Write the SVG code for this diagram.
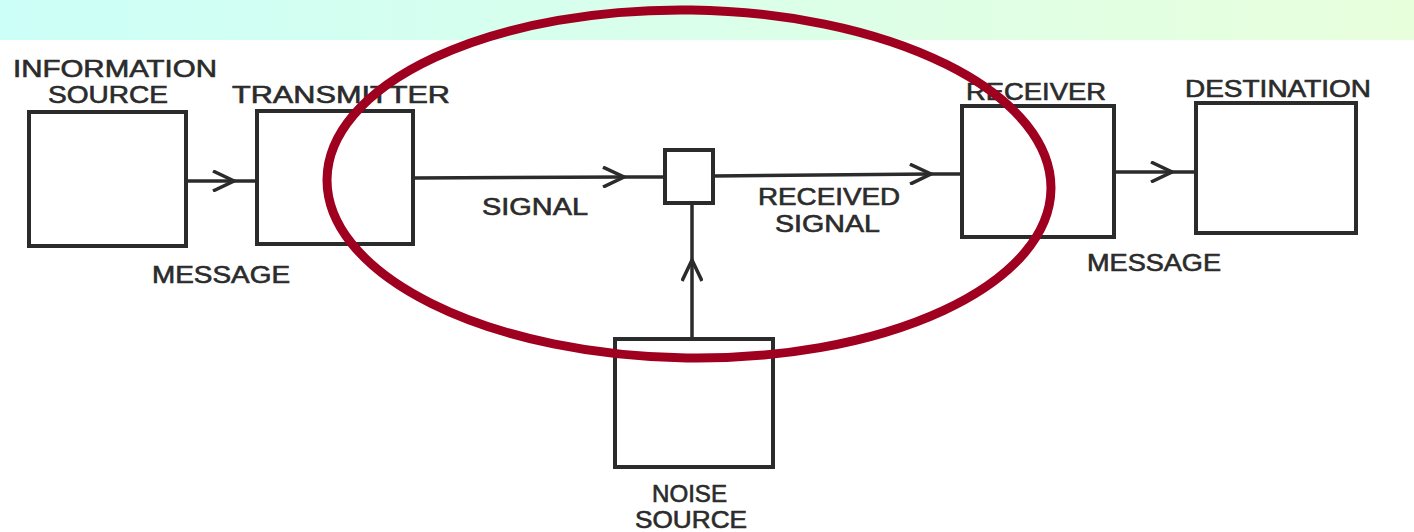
<svg xmlns="http://www.w3.org/2000/svg" width="1414" height="532" viewBox="0 0 1414 532">
  <defs>
    <linearGradient id="band" x1="0" y1="0" x2="1" y2="0">
      <stop offset="0" stop-color="#ccfff8"/>
      <stop offset="1" stop-color="#e8ffdc"/>
    </linearGradient>
    <marker id="chev" viewBox="0 0 24 22" refX="22" refY="11" markerWidth="24" markerHeight="22" markerUnits="userSpaceOnUse" orient="auto">
      <path d="M1,1 L22,11 L1,21" fill="none" stroke="#2b2b2b" stroke-width="3.5" stroke-linejoin="miter"/>
    </marker>
  </defs>
  <style>
    .box { fill: none; stroke: #2b2b2b; stroke-width: 4; }
    .wire { fill: none; stroke: #2b2b2b; stroke-width: 3.5; }
    .lbl { font-family: "Liberation Sans", "DejaVu Sans", sans-serif; font-size: 23px; fill: #2b2b2b; stroke: #2b2b2b; stroke-width: 0.6; }
  </style>
  <rect x="0" y="0" width="1414" height="532" fill="#ffffff"/>
  <rect x="0" y="0" width="1414" height="40" fill="url(#band)"/>

  <g id="information-source">
    <rect class="box" x="29" y="112" width="157" height="134"/>
    <text class="lbl" x="13" y="77" textLength="204" lengthAdjust="spacingAndGlyphs">INFORMATION</text>
    <text class="lbl" x="48" y="103" textLength="120" lengthAdjust="spacingAndGlyphs">SOURCE</text>
  </g>
  <g id="transmitter">
    <rect class="box" x="257" y="111" width="156" height="133"/>
    <text class="lbl" x="232" y="103" textLength="218" lengthAdjust="spacingAndGlyphs">TRANSMITTER</text>
  </g>
  <g id="mixer">
    <rect class="box" x="665" y="150" width="48" height="53"/>
  </g>
  <g id="receiver">
    <rect class="box" x="962" y="106" width="152" height="131"/>
    <text class="lbl" x="966" y="100" textLength="140" lengthAdjust="spacingAndGlyphs">RECEIVER</text>
  </g>
  <g id="destination">
    <rect class="box" x="1196" y="103" width="160" height="130"/>
    <text class="lbl" x="1185" y="97" textLength="186" lengthAdjust="spacingAndGlyphs">DESTINATION</text>
  </g>
  <g id="noise-source">
    <rect class="box" x="615" y="339" width="158" height="128"/>
    <text class="lbl" x="652" y="502" textLength="75" lengthAdjust="spacingAndGlyphs">NOISE</text>
    <text class="lbl" x="635" y="528" textLength="112" lengthAdjust="spacingAndGlyphs">SOURCE</text>
  </g>

  <g id="connectors">
    <path class="wire" d="M186,181 L234,181" marker-end="url(#chev)"/>
    <path class="wire" d="M232,181 L257,181"/>
    <path class="wire" d="M413,178 L624,177" marker-end="url(#chev)"/>
    <path class="wire" d="M622,177 L665,177"/>
    <path class="wire" d="M713,176 L931,174" marker-end="url(#chev)"/>
    <path class="wire" d="M929,174 L962,174"/>
    <path class="wire" d="M1114,172 L1172,172" marker-end="url(#chev)"/>
    <path class="wire" d="M1170,172 L1196,172"/>
    <path class="wire" d="M692,339 L692,260" marker-end="url(#chev)"/>
    <path class="wire" d="M692,262 L692,203"/>
    <text class="lbl" x="152" y="283" textLength="138" lengthAdjust="spacingAndGlyphs">MESSAGE</text>
    <text class="lbl" x="482" y="215" textLength="106" lengthAdjust="spacingAndGlyphs">SIGNAL</text>
    <text class="lbl" x="758" y="205" textLength="142" lengthAdjust="spacingAndGlyphs">RECEIVED</text>
    <text class="lbl" x="775" y="232" textLength="105" lengthAdjust="spacingAndGlyphs">SIGNAL</text>
    <text class="lbl" x="1087" y="271" textLength="134" lengthAdjust="spacingAndGlyphs">MESSAGE</text>
  </g>

  <ellipse cx="689" cy="184" rx="362" ry="174" fill="none" stroke="#a00020" stroke-width="9" transform="rotate(0.8 689 184)"/>
</svg>
